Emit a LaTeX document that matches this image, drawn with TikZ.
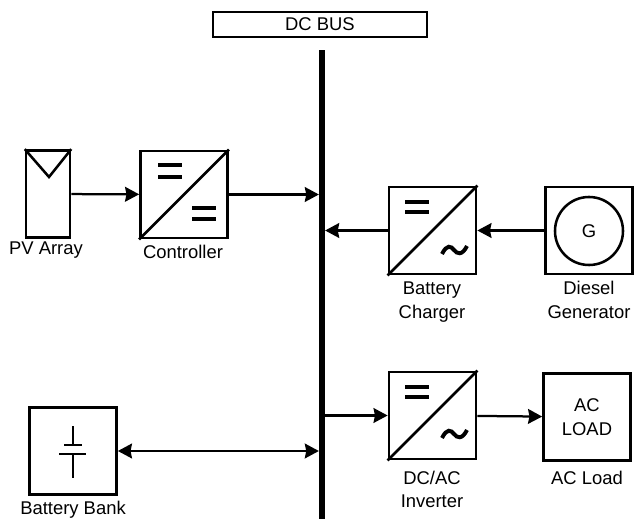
\documentclass[tikz,border=0pt]{standalone}
\usepackage{fontspec}
\setmainfont{Liberation Sans}
\usetikzlibrary{arrows.meta}

\begin{document}
\begin{tikzpicture}[
    x=0.025cm, y=-0.025cm,
    every node/.style={font=\fontsize{13.1}{15.8}\selectfont},
    unitbox/.style={draw, line width=1.8pt, minimum width=2.18cm,
                    minimum height=2.18cm, inner sep=0pt, align=center},
    flow/.style={-{Stealth[length=10pt,width=10.5pt,inset=1pt]}, line width=1.6pt},
    both/.style={{Stealth[length=10pt,width=10.5pt,inset=1pt]}-{Stealth[length=10pt,width=10.5pt,inset=1pt]}, line width=1.6pt},
    note/.style={align=center, inner sep=0pt},
    symb/.style={line width=1.8pt},
    eqbar/.style={line width=3.4pt},
    wave/.style={line width=2.8pt},
]

    \useasboundingbox (0,0) rectangle (634,519);

    \node[draw, line width=1pt, minimum width=5.35cm, minimum height=0.63cm,
          inner sep=0pt] (title) at (320,24.5) {DC BUS};
    \node[fill=black, inner sep=0pt, outer sep=0pt, minimum width=0.155cm,
          minimum height=11.72cm] (bus) at (322,284.5) {};

    \node[unitbox, minimum width=1.1cm] (pv) at (48,194) {};
    \node[unitbox] (ctrl) at (184,194.5) {};
    \node[unitbox] (chrg) at (432.5,230.5) {};
    \node[unitbox] (gen) at (589,230.5) {};
    \node[unitbox] (inv) at (432.5,415.5) {};
    \node[unitbox] (load) at (587,417) {AC\\[1pt]LOAD};
    \node[unitbox] (batt) at (73,451) {};

    \node[note] (pvtxt) at (46,250) {PV Array};
    \node[note] (ctrltxt) at (183,252) {Controller};
    \node[note] (chrgtxt) at (432,302) {Battery\\[1pt]Charger};
    \node[note] (gentxt) at (589,300) {Diesel\\[1pt]Generator};
    \node[note] (invtxt) at (432,489.5) {DC/AC\\[1pt]Inverter};
    \node[note] (loadtxt) at (587,478) {AC Load};
    \node[note] (batttxt) at (73,510) {Battery Bank};

    % converter and source symbols
    \draw[symb] (pv.north west) -- (49,177) -- (pv.north east);
    \foreach \unit in {ctrl,chrg,inv}
        \draw[symb] (\unit.south west) -- (\unit.north east);
    \node[draw, circle, line width=1.8pt, minimum size=1.7cm, inner sep=0pt]
        (gencirc) at (589,231) {G};

    \draw[eqbar] (158,165) -- (182,165);
    \draw[eqbar] (158,177) -- (182,177);
    \draw[eqbar] (192,208) -- (216,208);
    \draw[eqbar] (192,219) -- (216,219);
    \draw[eqbar] (405,202) -- (429,202);
    \draw[eqbar] (405,212) -- (429,212);
    \draw[eqbar] (405,387) -- (429,387);
    \draw[eqbar] (405,397) -- (429,397);
    \foreach \wavey in {250,434}
        \draw[wave] (442,\wavey+4) .. controls (447,\wavey-6) and (451,\wavey-4)
            .. (454,\wavey) .. controls (457,\wavey+4) and (462,\wavey+6) .. (467,\wavey-4);

    \draw[symb] (73,426) -- (73,445);
    \draw[symb] (64,445) -- (82,445);
    \draw[symb] (59,454) -- (86,454);
    \draw[symb] (73,454) -- (73,478);

    \draw[flow] (pv) -- (ctrl);
    \draw[flow] (ctrl) -- (ctrl -| bus.west);
    \draw[flow] (chrg) -- (chrg -| bus.east);
    \draw[flow] (gen) -- (chrg);
    \draw[flow] (inv -| bus.east) -- (inv);
    \draw[flow] (inv) -- (load);
    \draw[both] (batt) -- (batt -| bus.west);

\end{tikzpicture}
\end{document}
